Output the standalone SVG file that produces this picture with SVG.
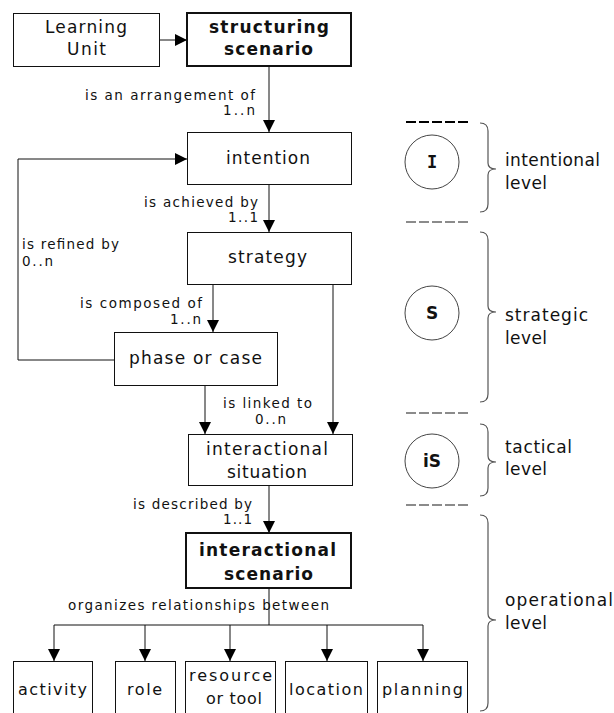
<svg xmlns="http://www.w3.org/2000/svg" width="614" height="713" viewBox="0 0 614 713">
<style>
text{font-family:"DejaVu Sans","Liberation Sans",sans-serif;fill:#111}
.n{font-size:17px}
.nb{font-size:17px;font-weight:bold}
.s{font-size:16px}
.l{font-size:13.5px}
.lv{font-size:17px}
.c{font-size:17px;font-weight:bold;text-anchor:middle}
.box{fill:#fff;stroke:#111;stroke-width:1}
.boxb{fill:#fff;stroke:#111;stroke-width:2}
.con{fill:none;stroke:#111;stroke-width:1}
.arr{marker-end:url(#ah)}
.circ{fill:#fff;stroke:#444;stroke-width:1}
.brace{fill:none;stroke:#555;stroke-width:1.2}
.dash{stroke:#666;stroke-width:1.5;stroke-dasharray:10 3}
</style>
<defs>
<marker id="ah" markerUnits="userSpaceOnUse" markerWidth="12" markerHeight="12" refX="12" refY="6" orient="auto">
<path d="M0,0 L12,6 L0,12 z" fill="#000"/>
</marker>
</defs>
<rect width="614" height="713" fill="#fff"/>

<g id="connectors">
<line class="con arr" x1="159" y1="40" x2="187" y2="40"/>
<line class="con arr" x1="269" y1="66" x2="269" y2="132"/>
<line class="con arr" x1="269" y1="184" x2="269" y2="232"/>
<line class="con arr" x1="213" y1="284" x2="213" y2="332"/>
<line class="con arr" x1="333" y1="284" x2="333" y2="434"/>
<line class="con arr" x1="205" y1="385" x2="205" y2="434"/>
<path class="con arr" d="M114,360 H18 V159 H187"/>
<line class="con arr" x1="269" y1="485" x2="269" y2="533"/>
<path class="con" d="M269,588 V625 M54,625 H423"/>
<line class="con arr" x1="54" y1="625" x2="54" y2="661"/>
<line class="con arr" x1="145" y1="625" x2="145" y2="661"/>
<line class="con arr" x1="230" y1="625" x2="230" y2="661"/>
<line class="con arr" x1="327" y1="625" x2="327" y2="661"/>
<line class="con arr" x1="423" y1="625" x2="423" y2="661"/>
<text class="l" x="85" y="100" textLength="170" lengthAdjust="spacing">is an arrangement of</text>
<text class="l" x="223" y="115" textLength="32" lengthAdjust="spacing">1..n</text>
<text class="l" x="144" y="207" textLength="114" lengthAdjust="spacing">is achieved by</text>
<text class="l" x="228" y="222" textLength="30" lengthAdjust="spacing">1..1</text>
<text class="l" x="22" y="249" textLength="97" lengthAdjust="spacing">is refined by</text>
<text class="l" x="22" y="266" textLength="31" lengthAdjust="spacing">0..n</text>
<text class="l" x="80" y="308" textLength="122" lengthAdjust="spacing">is composed of</text>
<text class="l" x="170" y="324" textLength="31" lengthAdjust="spacing">1..n</text>
<text class="l" x="223" y="408" textLength="89" lengthAdjust="spacing">is linked to</text>
<text class="l" x="255" y="424" textLength="31" lengthAdjust="spacing">0..n</text>
<text class="l" x="133" y="509" textLength="119" lengthAdjust="spacing">is described by</text>
<text class="l" x="223" y="524" textLength="29" lengthAdjust="spacing">1..1</text>
<text class="l" x="68" y="610" textLength="261" lengthAdjust="spacing">organizes relationships between</text>
</g>

<g id="learning-unit">
<rect class="box" x="13.5" y="13.5" width="146" height="53"/>
<text class="n" x="45" y="33" textLength="82" lengthAdjust="spacing">Learning</text>
<text class="n" x="67" y="55" textLength="39" lengthAdjust="spacing">Unit</text>
</g>
<g id="structuring-scenario">
<rect class="boxb" x="187" y="13" width="164" height="53"/>
<text class="nb" x="209" y="33" textLength="120" lengthAdjust="spacing">structuring</text>
<text class="nb" x="224" y="55" textLength="89" lengthAdjust="spacing">scenario</text>
</g>
<g id="intention">
<rect class="box" x="187.5" y="132.5" width="164" height="52"/>
<text class="n" x="226" y="164" textLength="84" lengthAdjust="spacing">intention</text>
</g>
<g id="strategy">
<rect class="box" x="187.5" y="232.5" width="164" height="52"/>
<text class="n" x="228" y="263" textLength="79" lengthAdjust="spacing">strategy</text>
</g>
<g id="phase-or-case">
<rect class="box" x="114.5" y="332.5" width="163" height="53"/>
<text class="n" x="129" y="364" textLength="133" lengthAdjust="spacing">phase or case</text>
</g>
<g id="interactional-situation">
<rect class="box" x="188.5" y="434.5" width="164" height="51"/>
<text class="n" x="206" y="455" textLength="122" lengthAdjust="spacing">interactional</text>
<text class="n" x="227" y="478" textLength="80" lengthAdjust="spacing">situation</text>
</g>
<g id="interactional-scenario">
<rect class="boxb" x="186" y="533" width="165" height="55"/>
<text class="nb" x="199" y="556" textLength="137" lengthAdjust="spacing">interactional</text>
<text class="nb" x="224" y="580" textLength="89" lengthAdjust="spacing">scenario</text>
</g>
<g id="activity">
<rect class="box" x="13.5" y="661.5" width="79" height="70"/>
<text class="s" x="18" y="695" textLength="69" lengthAdjust="spacing">activity</text>
</g>
<g id="role">
<rect class="box" x="115.5" y="661.5" width="60" height="70"/>
<text class="s" x="127" y="695" textLength="35" lengthAdjust="spacing">role</text>
</g>
<g id="resource-or-tool">
<rect class="box" x="185.5" y="661.5" width="90" height="70"/>
<text class="s" x="189" y="681" textLength="83" lengthAdjust="spacing">resource</text>
<text class="s" x="206" y="704" textLength="56" lengthAdjust="spacing">or tool</text>
</g>
<g id="location">
<rect class="box" x="285.5" y="661.5" width="82" height="70"/>
<text class="s" x="289" y="695" textLength="74" lengthAdjust="spacing">location</text>
</g>
<g id="planning">
<rect class="box" x="377.5" y="661.5" width="90" height="70"/>
<text class="s" x="382" y="695" textLength="81" lengthAdjust="spacing">planning</text>
</g>

<g id="levels">
<line class="dash" x1="406" y1="122" x2="469" y2="122" style="stroke:#000;stroke-width:2"/>
<line class="dash" x1="406" y1="222" x2="469" y2="222"/>
<line class="dash" x1="406" y1="413" x2="469" y2="413"/>
<line class="dash" x1="406" y1="505" x2="469" y2="505"/>
<path class="brace" d="M480,123 Q488,123 488,131 V163 Q488,169 496,169 Q488,169 488,175 V204 Q488,212 480,212"/>
<path class="brace" d="M480,232 Q488,232 488,240 V306 Q488,312 496,312 Q488,312 488,318 V394 Q488,402 480,402"/>
<path class="brace" d="M480,424 Q488,424 488,432 V456 Q488,462 496,462 Q488,462 488,468 V488 Q488,496 480,496"/>
<path class="brace" d="M480,515 Q488,515 488,523 V614 Q488,620 496,620 Q488,620 488,626 V703 Q488,711 480,711"/>
<g id="circle-I"><circle class="circ" cx="432" cy="162" r="27"/><text class="c" x="432" y="168" style="font-family:'DejaVu Sans Mono',monospace">I</text></g>
<g id="circle-S"><circle class="circ" cx="432" cy="313" r="27"/><text class="c" x="432" y="319">S</text></g>
<g id="circle-iS"><circle class="circ" cx="432" cy="461" r="27"/><text class="c" x="432" y="467">iS</text></g>
<text class="lv" x="505" y="166" textLength="95" lengthAdjust="spacing">intentional</text>
<text class="lv" x="505" y="189" textLength="42" lengthAdjust="spacing">level</text>
<text class="lv" x="505" y="321" textLength="83" lengthAdjust="spacing">strategic</text>
<text class="lv" x="505" y="344" textLength="42" lengthAdjust="spacing">level</text>
<text class="lv" x="505" y="453" textLength="67" lengthAdjust="spacing">tactical</text>
<text class="lv" x="505" y="475" textLength="42" lengthAdjust="spacing">level</text>
<text class="lv" x="505" y="606" textLength="108" lengthAdjust="spacing">operational</text>
<text class="lv" x="505" y="629" textLength="42" lengthAdjust="spacing">level</text>
</g>
</svg>
